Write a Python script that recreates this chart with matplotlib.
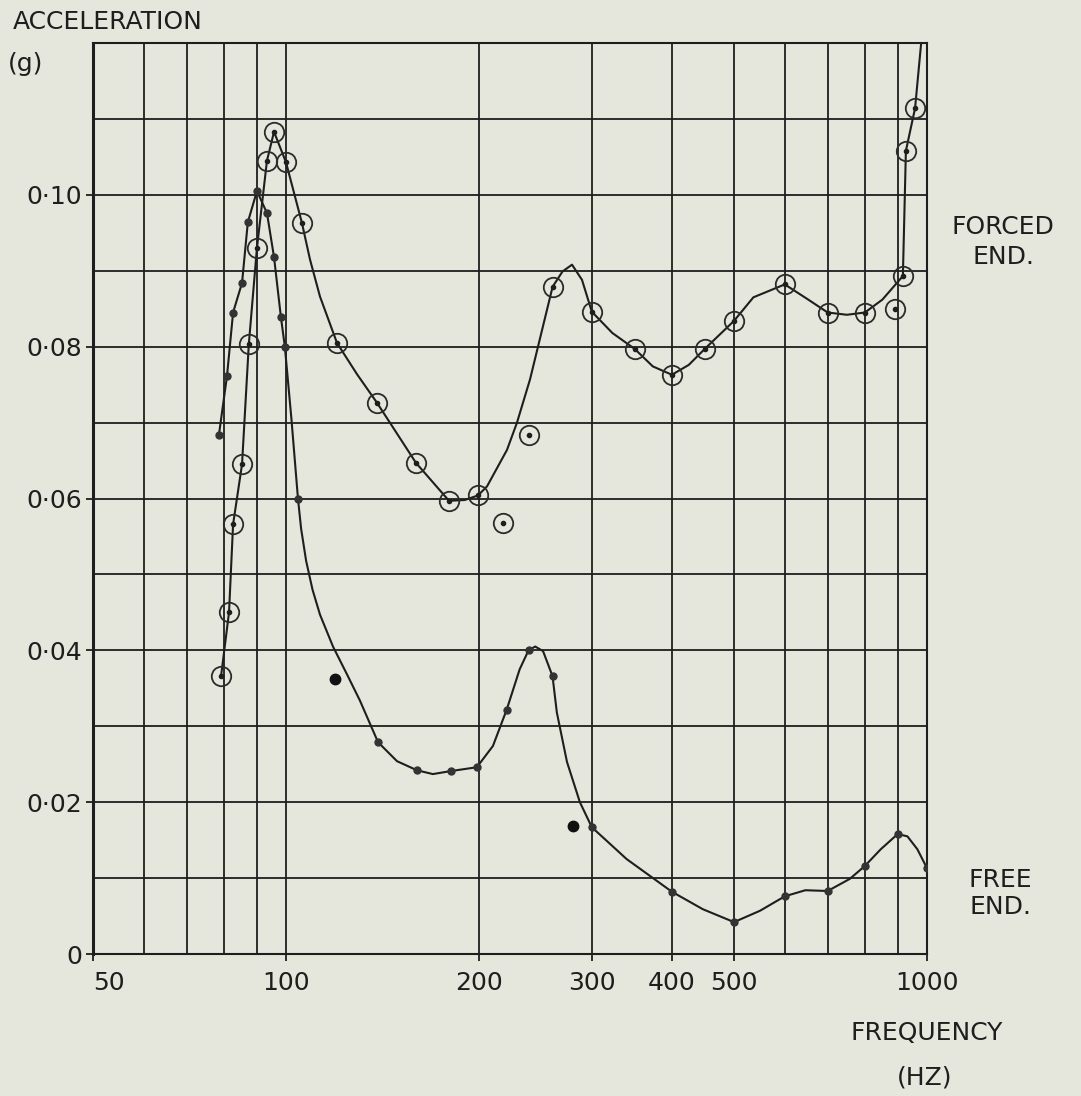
import matplotlib.pyplot as plt
from matplotlib.ticker import NullFormatter

# ---- forced end (circled points) ----
forced_freq = [79.2, 81.5, 82.7, 85.4, 87.5, 90.1, 93.4, 95.8, 100, 105.9, 120.1, 138.7,
               159.5, 179.6, 199.3, 260.6, 300, 350, 400, 450, 500, 600, 700, 800,
               917, 927, 958]
forced_acc = [0.0366, 0.0450, 0.0566, 0.0645, 0.0803, 0.0930, 0.1045, 0.1083, 0.1043,
              0.0963, 0.0805, 0.0726, 0.0647, 0.0597, 0.0604, 0.0879, 0.0846, 0.0797,
              0.0763, 0.0797, 0.0834, 0.0882, 0.0845, 0.0845, 0.0893, 0.1058, 0.1114]
# circled points lying off the drawn curve
forced_off_freq = [218, 239.3, 890]
forced_off_acc = [0.0568, 0.0684, 0.0850]
# hand drawn curve
forced_curve_freq = [79.2, 81.5, 82.7, 85.4, 87.5, 90.1, 93.4, 95.8, 100, 105.9, 109,
                     113, 120.1, 129, 138.7, 159.5, 179.6, 190, 199.3, 205.9, 221.2,
                     229.3, 240.3, 260.6, 270, 279.4, 289.6, 300, 323, 350, 373.5, 400,
                     425, 450, 500, 536, 600, 650, 700, 750, 800, 852, 917, 927, 958,
                     978, 990]
forced_curve_acc = [0.0366, 0.0450, 0.0566, 0.0645, 0.0803, 0.0930, 0.1045, 0.1083,
                    0.1043, 0.0963, 0.0915, 0.0866, 0.0805, 0.0764, 0.0726, 0.0647,
                    0.0597, 0.0598, 0.0604, 0.0616, 0.0664, 0.0700, 0.0757, 0.0879,
                    0.0899, 0.0908, 0.0888, 0.0846, 0.0818, 0.0797, 0.0774, 0.0763,
                    0.0776, 0.0797, 0.0834, 0.0865, 0.0882, 0.0863, 0.0845, 0.0842,
                    0.0845, 0.0862, 0.0893, 0.1058, 0.1114, 0.1195, 0.1240]

# ---- free end (small dots) ----
free_freq = [78.6, 80.9, 82.7, 85.4, 87.2, 90.1, 93.4, 95.8, 98.2, 99.6, 104.4, 139.2,
             160.1, 180.9, 198.5, 221, 239, 260.5, 300, 400, 500, 600, 700, 800, 900, 1000]
free_acc = [0.0684, 0.0761, 0.0845, 0.0884, 0.0964, 0.1005, 0.0976, 0.0918, 0.0839,
            0.0800, 0.0600, 0.0279, 0.0242, 0.0241, 0.0246, 0.0322, 0.0400, 0.0366,
            0.0167, 0.0082, 0.0042, 0.0076, 0.0083, 0.0116, 0.0158, 0.0113]
# solid dots off the curve
free_off_freq = [119.3, 280]
free_off_acc = [0.0362, 0.0168]
free_curve_freq = [78.6, 80.9, 82.7, 85.4, 87.2, 90.1, 93.4, 95.8, 98.2, 99.6, 102, 104.4,
                   105.6, 107.5, 110, 113, 118.4, 124.4, 130.4, 139.2, 149, 160.1, 169.5,
                   180.9, 198.5, 210.3, 221, 231.5, 239, 244.8, 251.8, 260.5, 264.6,
                   274.4, 287.4, 300, 340, 400, 447, 500, 549, 600, 646, 700, 758, 800,
                   847, 900, 932, 966, 1000]
free_curve_acc = [0.0684, 0.0761, 0.0845, 0.0884, 0.0964, 0.1005, 0.0976, 0.0918, 0.0839,
                  0.0800, 0.0704, 0.0600, 0.0560, 0.0518, 0.0480, 0.0447, 0.0405, 0.0369,
                  0.0334, 0.0279, 0.0254, 0.0242, 0.0237, 0.0241, 0.0246, 0.0274, 0.0322,
                  0.0375, 0.0400, 0.0405, 0.0399, 0.0366, 0.0318, 0.0253, 0.0200, 0.0167,
                  0.0125, 0.0082, 0.0059, 0.0042, 0.0057, 0.0076, 0.0084, 0.0083, 0.0099,
                  0.0116, 0.0138, 0.0158, 0.0155, 0.0138, 0.0113]

x_major = [50, 100, 200, 300, 400, 500, 1000]
x_major_labels = ['50', '100', '200', '300', '400', '500', '1000']
x_minor = [60, 70, 80, 90, 600, 700, 800, 900]
y_major = [0, 0.02, 0.04, 0.06, 0.08, 0.10]
y_major_labels = ['0', '0·02', '0·04', '0·06', '0·08', '0·10']
y_minor = [0.01, 0.03, 0.05, 0.07, 0.09, 0.11]

W, H = 1081, 1096
paper = '#e5e6dc'
ink = '#1e1e1e'
fs = 18

fig = plt.figure(figsize=(W / 100, H / 100), dpi=100)
fig.patch.set_facecolor(paper)
ax = fig.add_axes([93 / W, 1 - 954 / H, (927 - 93) / W, (954 - 43) / H])
ax.set_facecolor(paper)
ax.set_xscale('log')
ax.set_xlim(50, 1000)
ax.set_ylim(0, 0.12)

ax.set_xticks(x_major, x_major_labels)
ax.set_xticks(x_minor, minor=True)
ax.xaxis.set_minor_formatter(NullFormatter())
ax.set_yticks(y_major, y_major_labels)
ax.set_yticks(y_minor, minor=True)
ax.tick_params(which='major', length=5, width=1.3, color=ink, labelcolor=ink, labelsize=fs)
ax.tick_params(which='minor', length=0)
ax.tick_params(axis='x', pad=7)
ax.tick_params(axis='y', pad=3)
ax.get_xticklabels()[0].set_horizontalalignment('left')

ax.set_axisbelow(True)
ax.grid(True, which='both', color=ink, lw=1.3)
for side, sp in ax.spines.items():
    sp.set_color(ink)
    sp.set_linewidth(2.2 if side == 'left' else 1.5)

ax.plot(forced_curve_freq, forced_curve_acc, color=ink, lw=1.5, zorder=3)
ax.plot(free_curve_freq, free_curve_acc, color=ink, lw=1.5, zorder=3)

circ = dict(ls='none', marker='o', ms=14, mfc='none', mec='#2b2b2b', mew=1.3, zorder=4)
ax.plot(forced_freq, forced_acc, **circ)
ax.plot(forced_off_freq, forced_off_acc, **circ)
ax.plot(forced_freq + forced_off_freq, forced_acc + forced_off_acc,
        ls='none', marker='o', ms=3, color=ink, zorder=5)

ax.plot(free_freq, free_acc, ls='none', marker='o', ms=5, color='#333333', zorder=5)
ax.plot(free_off_freq, free_off_acc, ls='none', marker='o', ms=7.5, color='#111111', zorder=5)

fig.text(13 / W, 1 - 22 / H, 'ACCELERATION', ha='left', va='center', fontsize=fs, color=ink)
fig.text(8 / W, 1 - 64 / H, '(g)', ha='left', va='center', fontsize=fs, color=ink)
fig.text(1003 / W, 1 - 227 / H, 'FORCED', ha='center', va='center', fontsize=fs, color=ink)
fig.text(1003 / W, 1 - 257 / H, 'END.', ha='center', va='center', fontsize=fs, color=ink)
fig.text(1000 / W, 1 - 880 / H, 'FREE', ha='center', va='center', fontsize=fs, color=ink)
fig.text(1000 / W, 1 - 907 / H, 'END.', ha='center', va='center', fontsize=fs, color=ink)
fig.text(927 / W, 1 - 1033 / H, 'FREQUENCY', ha='center', va='center', fontsize=fs, color=ink)
fig.text(925 / W, 1 - 1078 / H, '(HZ)', ha='center', va='center', fontsize=fs, color=ink)

fig.savefig('out.png', dpi=100, facecolor=paper)
